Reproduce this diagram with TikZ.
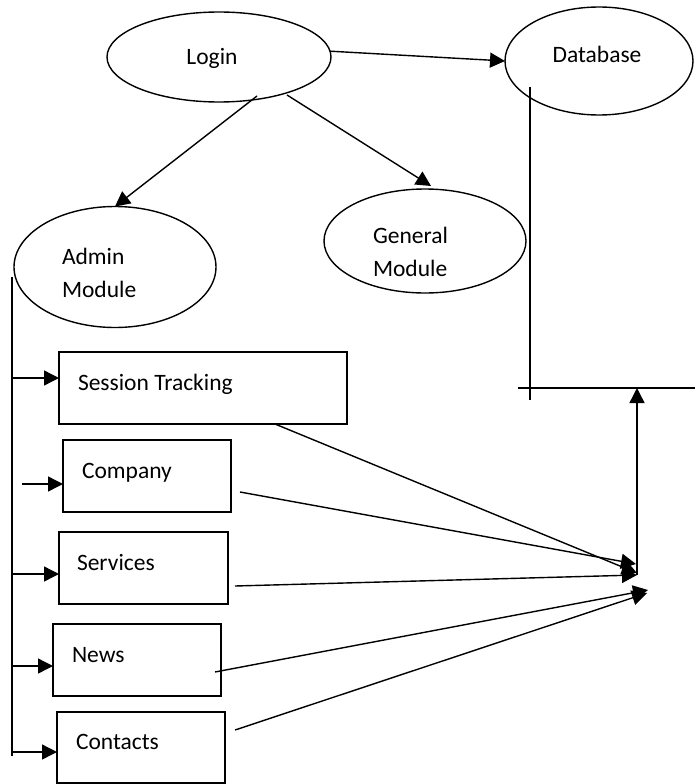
\documentclass[tikz,border=0pt]{standalone}
\usepackage{fontspec}
\setmainfont{Carlito}
\usetikzlibrary{shapes.geometric,arrows.meta}
\begin{document}
\begin{tikzpicture}[x=1pt,y=-1pt,
  line width=1.4pt,
  every node/.style={inner sep=0pt,outer sep=0pt},
  oval/.style={draw,ellipse},
  box/.style={draw,rectangle,anchor=north west},
  lbl/.style={anchor=base west,align=left,font=\fontsize{23.5}{33}\selectfont},
  arr/.style={-{Triangle[length=15pt,width=15pt]}},
]
\useasboundingbox (0,0) rectangle (695,784);

% ---- ellipses ----
\node[oval,minimum width=224pt,minimum height=90pt]  (login) at (219,57) {};
\node[oval,minimum width=188pt,minimum height=108pt] (db)    at (599,61) {};
\node[oval,minimum width=202pt,minimum height=121pt] (admin) at (115,267) {};
\node[oval,minimum width=202pt,minimum height=104pt] (gen)   at (425,241) {};

\node[lbl,anchor=center] (tlogin) at (212,58) {Login};
\node[lbl,anchor=center] (tdb)    at (597,54) {Database};
% two-line labels: base anchor sits on the last line
\node[lbl] (tadmin) at (62,297)  {Admin\\Module};
\node[lbl] (tgen)   at (373,276) {General\\Module};

% ---- module boxes ----
\node[box,minimum width=288pt,minimum height=72pt] (sess) at (59,352) {};
\node[box,minimum width=168pt,minimum height=72pt] (comp) at (63,440) {};
\node[box,minimum width=169pt,minimum height=72pt] (serv) at (59,532) {};
\node[box,minimum width=168pt,minimum height=72pt] (news) at (53,624) {};
\node[box,minimum width=168pt,minimum height=71pt] (cont) at (57,712) {};

\node[lbl] (tsess) at (78,390) {Session Tracking};
\node[lbl] (tcomp) at (82,478) {Company};
\node[lbl] (tserv) at (77,570) {Services};
\node[lbl] (tnews) at (72,662) {News};
\node[lbl] (tcont) at (76,749) {Contacts};

% ---- connector end points ----
\coordinate (loginA) at (257,96);
\coordinate (loginG) at (287,95);
\coordinate (genTip) at (431,186);
\coordinate (dbTop)  at (530,87);
\coordinate (dbBot)  at (530,400);
\coordinate (barL)   at (518,388);
\coordinate (barR)   at (695,388);
\coordinate (hub)    at (637,575);
\coordinate (spineT) at (12,277);
\coordinate (spineB) at (12,756);
\coordinate (b1) at (12,378);
\coordinate (b2) at (22,484);
\coordinate (b3) at (12,574);
\coordinate (b4) at (12,666);
\coordinate (b5) at (12,752);
\coordinate (s1) at (275,424);
\coordinate (s2) at (240,492);
\coordinate (s3) at (235,586);
\coordinate (s4) at (215,672);
\coordinate (s5) at (235,730);
\coordinate (e1) at (637,573);
\coordinate (e2) at (636,564);
\coordinate (e3) at (637,575);
\coordinate (e4) at (648,590);
\coordinate (e5) at (647,593);

% ---- connectors ----
\draw[arr] (login.3) -- (db.west);
\draw[arr] (loginA) -- (admin.north);
\draw[arr] (loginG) -- (genTip);

\draw (dbTop) -- (dbBot);
\draw (barL) -- (barR);
\draw[arr] (hub) -- (hub |- barL);

\draw (spineT) -- (spineB);
\draw[arr] (b1) -- (sess.west |- b1);
\draw[arr] (b2) -- (comp.west |- b2);
\draw[arr] (b3) -- (serv.west |- b3);
\draw[arr] (b4) -- (news.west |- b4);
\draw[arr] (b5) -- (cont.west |- b5);

\draw[arr] (s1) -- (e1);
\draw[arr] (s2) -- (e2);
\draw[arr] (s3) -- (e3);
\draw[arr] (s4) -- (e4);
\draw[arr] (s5) -- (e5);
\end{tikzpicture}
\end{document}
